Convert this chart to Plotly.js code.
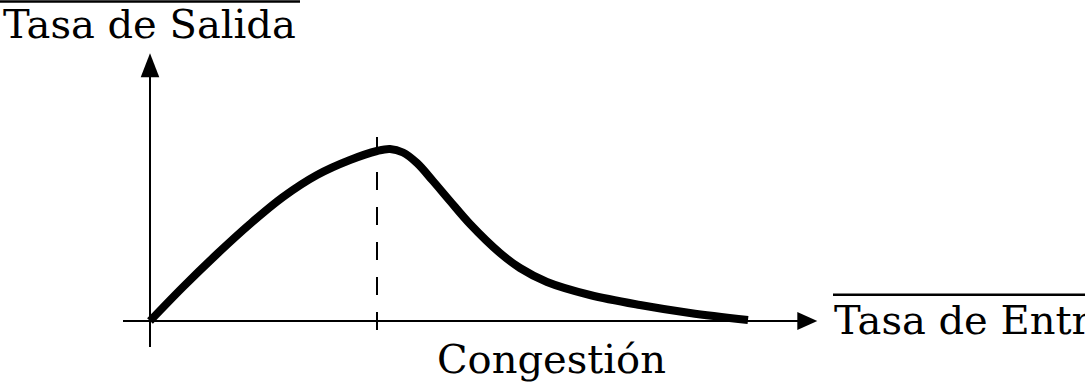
<!DOCTYPE html>
<html>
<head>
<meta charset="utf-8">
<script src="https://cdn.plot.ly/plotly-3.0.1.min.js"></script>
<style>html,body{margin:0;padding:0;background:#fff;overflow:hidden}#chart{width:1085px;height:384px}</style>
</head>
<body>
<div id="chart"></div>
<script>
// Data (abstract units: input rate vs output rate)
const inputRate  = [0, 0.33, 0.67, 1.00, 1.33, 1.67, 2.00, 2.27, 2.40, 2.53, 2.67, 2.83, 3.00, 3.20, 3.50, 3.70, 3.97, 4.40, 4.90, 5.40, 5.98];
const outputRate = [0, 0.34, 0.67, 0.97, 1.24, 1.46, 1.61, 1.70, 1.72, 1.685, 1.58, 1.40, 1.20, 0.97, 0.68, 0.53, 0.39, 0.26, 0.16, 0.08, 0.01];
const congestionPoint = 2.27;
const yAxisLabel = "Tasa de Salida";
const xAxisLabel = "Tasa de Entrada";
const markerLabel = "Congestión";

const font = {family: "DejaVu Serif", size: 40, color: "#000"};
const axisLine = {color: "#000", width: 2};

const shapes = [
  // y axis
  {type: "line", x0: 0, x1: 0, y0: -0.26, y1: 2.45, line: axisLine},
  {type: "path", path: "M -0.093 2.437 L 0.093 2.437 L 0 2.677 Z", fillcolor: "#000", line: {width: 0}},
  // x axis
  {type: "line", x0: -0.27, x1: 6.48, y0: 0, y1: 0, line: axisLine},
  {type: "path", path: "M 6.473 0.09 L 6.473 -0.09 L 6.673 0 Z", fillcolor: "#000", line: {width: 0}},
  // congestion dashed line
  {type: "line", x0: congestionPoint, x1: congestionPoint, y0: 1.84, y1: -0.12,
   line: {color: "#000", width: 2, dash: "18px,17px"}},
  // overlines
  {type: "line", x0: -1.5, x1: 1.5, y0: 3.195, y1: 3.195, line: {color: "#000", width: 2.5}},
  {type: "line", x0: 6.83, x1: 10, y0: 0.263, y1: 0.263, line: {color: "#000", width: 2.5}}
];

const annotations = [
  {x: -1.49, y: 2.975, text: yAxisLabel, xanchor: "left", yanchor: "middle", showarrow: false, font: font},
  {x: 6.82, y: 0.01, text: xAxisLabel, xanchor: "left", yanchor: "middle", showarrow: false, font: font},
  {x: 4.017, y: -0.375, text: markerLabel, xanchor: "center", yanchor: "middle", showarrow: false, font: font}
];

const trace = {
  x: inputRate, y: outputRate, mode: "lines", type: "scatter",
  line: {color: "#000", width: 8, shape: "spline", smoothing: 1},
  hoverinfo: "skip", cliponaxis: false
};

const layout = {
  width: 1085, height: 384,
  margin: {l: 0, r: 0, t: 0, b: 0, pad: 0},
  paper_bgcolor: "#fff", plot_bgcolor: "#fff",
  showlegend: false,
  xaxis: {range: [-1.5, 9.35], visible: false, fixedrange: true},
  yaxis: {range: [-0.63, 3.21], visible: false, fixedrange: true},
  shapes: shapes,
  annotations: annotations
};

Plotly.newPlot("chart", [trace], layout, {displayModeBar: false, staticPlot: true});
</script>
</body>
</html>
